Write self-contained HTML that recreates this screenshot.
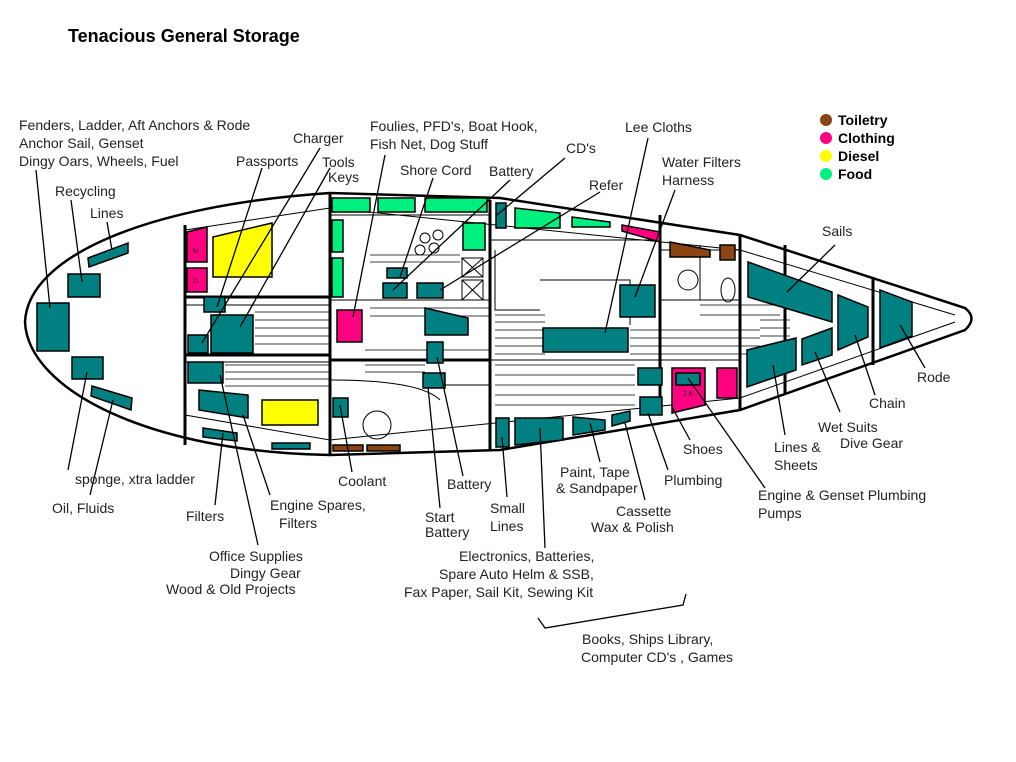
<!DOCTYPE html>
<html><head><meta charset="utf-8"><style>
html,body{margin:0;padding:0;background:#fff}
svg{display:block}
text{font-family:"Liberation Sans",Verdana,sans-serif;font-size:14px;fill:#222}
.t{fill:#008080;stroke:#000;stroke-width:1.5}
.g{fill:#00f080;stroke:#000;stroke-width:1.5}
.p{fill:#ff0080;stroke:#000;stroke-width:1.5}
.y{fill:#ffff00;stroke:#000;stroke-width:1.5}
.b{fill:#8b4513;stroke:#000;stroke-width:1.5}
.l{stroke:#000;stroke-width:1.3;fill:none}
.w{stroke:#000;stroke-width:3;fill:none}
.h{stroke:#000;stroke-width:1;fill:none}
</style></head><body>
<svg width="1016" height="762" viewBox="0 0 1016 762" xmlns="http://www.w3.org/2000/svg">
<text x="68" y="42" style="font-size:18px;font-weight:bold;fill:#000">Tenacious General Storage</text>

<!-- hull -->
<path class="w" d="M330,193 L500,198 L740,235 L965,308 Q978,318 965,330 L740,410 L500,450 L330,455 C150,452 28,390 25,322 C28,255 150,205 330,193 Z" style="stroke-width:2.5"/>
<path class="h" d="M185,230 L330,208 L740,250 L955,315 M185,415 L330,440 L740,398 L955,322"/>
<!-- interior walls -->
<path class="w" d="M185,225 V445 M330,193 V455 M185,297 H330 M185,355 H330 M330,360 H490 M490,200 V450 M740,235 V410 M660,215 V412 M785,245 V395"/>
<path class="h" d="M330,215 H490 M330,300 H490 M490,240 H660 M490,360 H740 M540,280 H630 V325 M700,245 V300 M440,385 H490 M330,380 Q420,380 440,400 M185,305 H330 M185,362 H330 M495,250 V310 H540 M660,250 H740 M660,300 H740"/>
<!-- hatching -->
<g class="h" style="stroke-width:0.8">
<path d="M255,305 H330 M255,312 H330 M255,320 H330 M255,328 H330 M255,336 H330 M255,344 H330"/>
<path d="M225,365 H330 M225,372 H330 M225,379 H330 M225,386 H330"/>
<path d="M370,255 H460 M370,262 H460 M370,300 H490 M370,308 H490 M370,316 H490 M365,350 H490 M365,365 H425 M365,372 H425"/>
<path d="M495,315 H545 M495,322 H545 M495,330 H545 M495,338 H545 M495,346 H545 M495,354 H545"/>
<path d="M630,330 H760 M630,338 H760 M630,346 H760 M630,354 H760 M700,305 H780 M700,315 H780"/>
<path d="M495,365 H635 M495,375 H635 M495,385 H635 M495,395 H635 M495,405 H635"/>
<path d="M760,320 H790 M760,328 H790 M760,336 H790"/>
</g>

<!-- stern lockers -->
<rect class="t" x="37" y="303" width="32" height="48"/>
<rect class="t" x="68" y="274" width="32" height="23"/>
<polygon class="t" points="88,258 128,243 128,253 89,267"/>
<rect class="t" x="72" y="357" width="31" height="22"/>
<polygon class="t" points="92,386 132,398 131,410 91,396"/>
<!-- aft cabin -->
<polygon class="p" points="187,232 207,227 207,262 187,262"/>
<text x="193" y="253" style="font-size:7px">M</text>
<rect class="p" x="187" y="268" width="20" height="24"/>
<text x="193" y="283" style="font-size:7px">D</text>
<polygon class="y" points="213,237 272,223 272,277 213,277"/>
<rect class="t" x="204" y="297" width="21" height="15"/>
<rect class="t" x="211" y="315" width="42" height="38"/>
<rect class="t" x="188" y="335" width="20" height="18"/>
<rect class="t" x="188" y="362" width="35" height="21"/>
<polygon class="t" points="199,390 248,395 248,418 199,410"/>
<rect class="y" x="262" y="400" width="56" height="25"/>
<polygon class="t" points="203,428 237,433 237,441 203,437"/>
<rect class="t" x="272" y="443" width="38" height="6"/>
<!-- galley -->
<rect class="g" x="332" y="198" width="38" height="14"/>
<rect class="g" x="378" y="198" width="37" height="14"/>
<rect class="g" x="425" y="198" width="62" height="14"/>
<rect class="g" x="332" y="220" width="11" height="32"/>
<rect class="g" x="332" y="258" width="11" height="39"/>
<rect class="g" x="463" y="223" width="22" height="27"/>
<circle class="h" cx="425" cy="238" r="5"/><circle class="h" cx="438" cy="235" r="5"/><circle class="h" cx="420" cy="250" r="5"/><circle class="h" cx="434" cy="248" r="5"/>
<rect class="t" x="387" y="268" width="20" height="10"/>
<rect class="t" x="383" y="283" width="24" height="15"/>
<rect class="t" x="417" y="283" width="26" height="15"/>
<rect class="h" x="462" y="258" width="21" height="19"/><path class="h" d="M462,258 L483,277 M483,258 L462,277"/>
<rect class="h" x="462" y="280" width="21" height="20"/><path class="h" d="M462,280 L483,300 M483,280 L462,300"/>
<rect class="p" x="337" y="310" width="25" height="32"/>
<polygon class="t" points="425,308 468,318 468,335 425,335"/>
<rect class="t" x="427" y="342" width="16" height="21"/>
<rect class="t" x="423" y="373" width="22" height="15"/>
<rect class="t" x="333" y="398" width="15" height="19"/>
<circle class="h" cx="377" cy="425" r="14"/>
<rect class="b" x="333" y="445" width="30" height="6"/>
<rect class="b" x="367" y="445" width="33" height="6"/>
<!-- saloon -->
<rect class="t" x="496" y="203" width="10" height="25"/>
<polygon class="g" points="515,208 560,213 560,228 515,228"/>
<polygon class="g" points="572,217 610,222 610,227 572,227"/>
<polygon class="p" points="622,225 660,232 660,242 622,231"/>
<polygon class="b" points="670,242 710,250 710,257 670,257"/>
<rect class="b" x="720" y="245" width="15" height="15"/>
<circle class="h" cx="688" cy="280" r="10"/>
<ellipse class="h" cx="728" cy="290" rx="7" ry="12"/>
<rect class="t" x="620" y="285" width="35" height="32"/>
<rect class="t" x="543" y="328" width="85" height="24"/>
<!-- bow -->
<polygon class="t" points="748,262 832,292 832,322 748,297"/>
<polygon class="t" points="838,295 868,307 868,337 838,350"/>
<polygon class="t" points="880,290 912,302 912,336 880,348"/>
<polygon class="t" points="747,350 796,338 796,370 747,387"/>
<polygon class="t" points="802,339 832,328 832,355 802,365"/>
<path class="w" d="M873,277 V365"/>
<!-- starboard lockers -->
<rect class="t" x="638" y="368" width="24" height="17"/>
<rect class="t" x="640" y="397" width="22" height="18"/>
<polygon class="p" points="672,368 705,368 705,405 672,413"/>
<rect class="t" x="676" y="373" width="24" height="12"/>
<text x="683" y="396" style="font-size:7px">J K</text>
<rect class="p" x="717" y="368" width="20" height="30"/>
<rect class="t" x="496" y="418" width="13" height="29"/>
<polygon class="t" points="515,418 563,418 563,440 515,445"/>
<polygon class="t" points="573,417 605,420 605,430 573,435"/>
<polygon class="t" points="612,415 630,411 630,421 612,426"/>

<!-- leader lines -->
<g class="l">
<path d="M36,170 L50,308"/>
<path d="M71,200 L82,282"/>
<path d="M107,222 L112,250"/>
<path d="M68,470 L87,372"/>
<path d="M90,495 L113,400"/>
<path d="M215,505 L223,433"/>
<path d="M258,545 L220,375"/>
<path d="M270,495 L243,415"/>
<path d="M262,168 L217,307"/>
<path d="M320,148 L202,343"/>
<path d="M330,168 L240,327"/>
<path d="M385,155 L353,317"/>
<path d="M433,178 L400,277"/>
<path d="M510,180 L393,290"/>
<path d="M600,192 L440,290"/>
<path d="M565,158 L497,215"/>
<path d="M648,138 L605,333"/>
<path d="M675,190 L635,297"/>
<path d="M835,245 L787,292"/>
<path d="M925,368 L900,325"/>
<path d="M875,395 L855,335"/>
<path d="M840,412 L815,352"/>
<path d="M785,435 L773,365"/>
<path d="M765,488 L688,378"/>
<path d="M690,440 L672,407"/>
<path d="M668,470 L648,413"/>
<path d="M645,500 L625,423"/>
<path d="M600,462 L590,423"/>
<path d="M545,548 L540,428"/>
<path d="M507,497 L502,437"/>
<path d="M463,476 L437,357"/>
<path d="M440,508 L428,387"/>
<path d="M352,472 L340,405"/>
<path d="M538,618 L545,628 L683,605 L686,594"/>
</g>

<!-- labels -->
<text x="19" y="130">Fenders, Ladder, Aft Anchors &amp; Rode</text>
<text x="19" y="148">Anchor Sail, Genset</text>
<text x="19" y="166">Dingy Oars, Wheels, Fuel</text>
<text x="55" y="196">Recycling</text>
<text x="90" y="218">Lines</text>
<text x="236" y="166">Passports</text>
<text x="293" y="143">Charger</text>
<text x="322" y="167">Tools</text>
<text x="328" y="182">Keys</text>
<text x="370" y="131">Foulies, PFD's, Boat Hook,</text>
<text x="370" y="149">Fish Net, Dog Stuff</text>
<text x="400" y="175">Shore Cord</text>
<text x="489" y="176">Battery</text>
<text x="566" y="153">CD's</text>
<text x="589" y="190">Refer</text>
<text x="625" y="132">Lee Cloths</text>
<text x="662" y="167">Water Filters</text>
<text x="662" y="185">Harness</text>
<text x="822" y="236">Sails</text>
<text x="917" y="382">Rode</text>
<text x="869" y="408">Chain</text>
<text x="818" y="432">Wet Suits</text>
<text x="840" y="448">Dive Gear</text>
<text x="774" y="452">Lines &amp;</text>
<text x="774" y="470">Sheets</text>
<text x="758" y="500">Engine &amp; Genset Plumbing</text>
<text x="758" y="518">Pumps</text>
<text x="683" y="454">Shoes</text>
<text x="664" y="485">Plumbing</text>
<text x="616" y="516">Cassette</text>
<text x="591" y="532">Wax &amp; Polish</text>
<text x="560" y="477">Paint, Tape</text>
<text x="556" y="493">&amp; Sandpaper</text>
<text x="459" y="561">Electronics, Batteries,</text>
<text x="439" y="579">Spare Auto Helm &amp; SSB,</text>
<text x="404" y="597">Fax Paper, Sail Kit, Sewing Kit</text>
<text x="490" y="513">Small</text>
<text x="490" y="531">Lines</text>
<text x="447" y="489">Battery</text>
<text x="425" y="522">Start</text>
<text x="425" y="537">Battery</text>
<text x="338" y="486">Coolant</text>
<text x="75" y="484">sponge, xtra ladder</text>
<text x="52" y="513">Oil, Fluids</text>
<text x="186" y="521">Filters</text>
<text x="270" y="510">Engine Spares,</text>
<text x="279" y="528">Filters</text>
<text x="209" y="561">Office Supplies</text>
<text x="230" y="578">Dingy Gear</text>
<text x="166" y="594">Wood &amp; Old Projects</text>
<text x="582" y="644">Books, Ships Library,</text>
<text x="581" y="662">Computer CD's , Games</text>

<!-- legend -->
<circle cx="826" cy="120" r="6" fill="#8b4513"/>
<circle cx="826" cy="138" r="6" fill="#ff0080"/>
<circle cx="826" cy="156" r="6" fill="#ffff00"/>
<circle cx="826" cy="174" r="6" fill="#00f080"/>
<text x="838" y="125" style="font-weight:bold;fill:#000">Toiletry</text>
<text x="838" y="143" style="font-weight:bold;fill:#000">Clothing</text>
<text x="838" y="161" style="font-weight:bold;fill:#000">Diesel</text>
<text x="838" y="179" style="font-weight:bold;fill:#000">Food</text>
</svg>
</body></html>
